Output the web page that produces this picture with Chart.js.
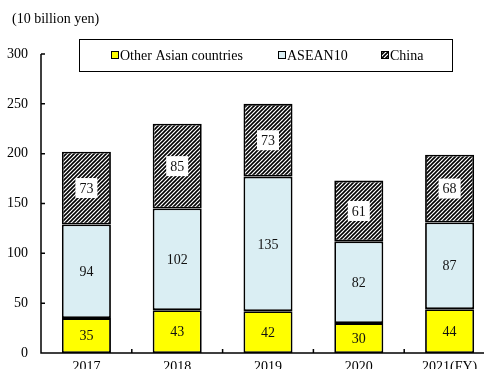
<!DOCTYPE html>
<html><head><meta charset="utf-8">
<script src="https://cdn.jsdelivr.net/npm/chart.js@4.4.1/dist/chart.umd.min.js"></script>
<style>html,body{margin:0;padding:0;overflow:hidden;background:#fff;width:484px;height:369px}#wrap{position:absolute;left:0;top:0;width:500px;height:380px}</style>
</head><body><div id="wrap"><canvas id="c" width="500" height="380"></canvas></div>
<script>
const categories = ["2017", "2018", "2019", "2020", "2021(FY)"];
const otherAsian = [35, 43, 42, 30, 44];
const asean10 = [94, 102, 135, 82, 87];
const china = [73, 85, 73, 61, 68];
const yTicks = [0, 50, 100, 150, 200, 250, 300];
const seriesNames = ["Other Asian countries", "ASEAN10", "China"];
const unitLabel = "(10 billion yen)";

const FONT = "'Liberation Serif', 'Times New Roman', serif";

function hatch() {
  const s = 4;
  const p = document.createElement('canvas');
  p.width = s; p.height = s;
  const g = p.getContext('2d');
  g.fillStyle = '#fff'; g.fillRect(0, 0, s, s);
  g.strokeStyle = '#000'; g.lineWidth = 1.6;
  g.beginPath();
  g.moveTo(-1, s + 1); g.lineTo(s + 1, -1);
  g.moveTo(-1, 1); g.lineTo(1, -1);
  g.moveTo(s - 1, s + 1); g.lineTo(s + 1, s - 1);
  g.stroke();
  return document.getElementById('c').getContext('2d').createPattern(p, 'repeat');
}
const hatchPat = hatch();
const fills = ['#FFFF00', '#DAEEF3', hatchPat];

const decor = {
  id: 'decor',
  afterDatasetsDraw(chart) {
    const ctx = chart.ctx;
    const ca = chart.chartArea;
    const xs = chart.scales.x, ys = chart.scales.y;
    ctx.save();
    // data labels
    ctx.font = '14px ' + FONT;
    ctx.textAlign = 'center'; ctx.textBaseline = 'middle';
    chart.data.datasets.forEach((ds, di) => {
      const meta = chart.getDatasetMeta(di);
      meta.data.forEach((el, i) => {
        const cy = (el.y + el.base) / 2;
        const txt = String(ds.data[i]);
        if (di === 2) {
          ctx.fillStyle = '#fff';
          ctx.fillRect(el.x - 11, cy - 10, 22, 20);
        }
        ctx.fillStyle = '#111';
        ctx.fillText(txt, el.x, cy + 1);
      });
    });
    // axis lines and inward ticks
    ctx.strokeStyle = '#000'; ctx.lineWidth = 1.5;
    ctx.beginPath();
    ctx.moveTo(ca.left, ca.top); ctx.lineTo(ca.left, ca.bottom); ctx.lineTo(ca.right, ca.bottom);
    yTicks.forEach(v => { const y = ys.getPixelForValue(v); ctx.moveTo(ca.left, y); ctx.lineTo(ca.left + 4, y); });
    for (let i = 0; i < categories.length - 1; i++) {
      const x = (xs.getPixelForValue(i) + xs.getPixelForValue(i + 1)) / 2;
      ctx.moveTo(x, ca.bottom); ctx.lineTo(x, ca.bottom - 4);
    }
    ctx.stroke();
    // legend
    ctx.lineWidth = 1;
    ctx.strokeRect(79.5, 39.5, 373, 32);
    const lx = [111, 278, 381];
    ctx.textAlign = 'left'; ctx.textBaseline = 'middle';
    seriesNames.forEach((n, k) => {
      ctx.fillStyle = fills[k];
      ctx.fillRect(lx[k], 51, 8, 8);
      ctx.strokeStyle = '#000'; ctx.lineWidth = 1;
      ctx.strokeRect(lx[k] + 0.5, 51.5, 7, 7);
      ctx.fillStyle = '#000';
      ctx.fillText(n, lx[k] + 9, 56);
    });
    // unit label
    ctx.fillText(unitLabel, 12, 19);
    ctx.restore();
  }
};

new Chart(document.getElementById('c'), {
  type: 'bar',
  data: {
    labels: categories,
    datasets: [otherAsian, asean10, china].map((d, k) => ({
      label: seriesNames[k], data: d, backgroundColor: fills[k],
      borderColor: '#000', borderWidth: 1.8, borderSkipped: false,
      barPercentage: 0.54, categoryPercentage: 1.0
    }))
  },
  options: {
    responsive: false, animation: false, devicePixelRatio: 1,
    layout: { padding: { top: 54, right: 5, left: 0, bottom: 0 } },
    plugins: { legend: { display: false }, tooltip: { enabled: false }, title: { display: false } },
    scales: {
      x: {
        stacked: true,
        grid: { display: false, drawTicks: false },
        border: { display: false },
        ticks: { color: '#000', font: { family: FONT, size: 14 }, padding: 6, maxRotation: 0, autoSkip: false },
        afterFit(s) { s.height = 27; }
      },
      y: {
        stacked: true, min: 0, max: 300,
        grid: { display: false, drawTicks: false },
        border: { display: false },
        afterBuildTicks(s) { s.ticks = yTicks.map(v => ({ value: v })); },
        ticks: { color: '#000', font: { family: FONT, size: 14 }, padding: 13 },
        afterFit(s) { s.width = 41; }
      }
    }
  },
  plugins: [decor]
});
</script></body></html>
